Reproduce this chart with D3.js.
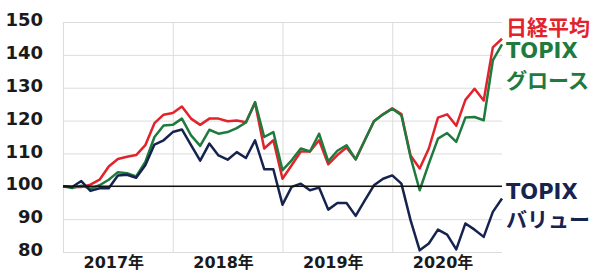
<!DOCTYPE html>
<html>
<head>
<meta charset="utf-8">
<script src="https://cdn.jsdelivr.net/npm/d3@7"></script>
<style>
  html, body { margin: 0; padding: 0; background: #fff; }
  svg { display: block; }
</style>
</head>
<body>
<svg id="chart" width="600" height="274"></svg>
<script>
const months = [
  "2016/12",
  "2017/01","2017/02","2017/03","2017/04","2017/05","2017/06","2017/07","2017/08","2017/09","2017/10","2017/11","2017/12",
  "2018/01","2018/02","2018/03","2018/04","2018/05","2018/06","2018/07","2018/08","2018/09","2018/10","2018/11","2018/12",
  "2019/01","2019/02","2019/03","2019/04","2019/05","2019/06","2019/07","2019/08","2019/09","2019/10","2019/11","2019/12",
  "2020/01","2020/02","2020/03","2020/04","2020/05","2020/06","2020/07","2020/08","2020/09","2020/10","2020/11","2020/12"
];
const nikkei = [100, 99.8, 99.8, 100.5, 102, 106, 108.3, 109, 109.5, 112.5, 119.2, 121.8, 122.3,
  124.3, 120.6, 118.7, 120.6, 120.6, 119.8, 120, 119.5, 125.4, 111.5, 114, 102.3,
  106.4, 110.6, 110.6, 114, 106.7, 109.5, 111.8, 108.2, 114, 119.8, 121.9, 123.7,
  122, 109.4, 105.4, 111.5, 120.9, 121.9, 118.4, 126.3, 129.7, 126.1, 142.3, 144.9];
const topixGrowth = [100, 99.5, 100.2, 99.3, 100.3, 102, 104.3, 104, 103, 107.4, 115, 118.5, 118.7,
  120.6, 115.5, 112.3, 117.2, 116, 116.5, 117.7, 119.4, 125.6, 115, 116.5, 104.9,
  107.9, 111.5, 110.6, 116, 107.6, 110.8, 112.5, 108.2, 114, 119.8, 121.9, 123.6,
  121.6, 108.9, 98.8, 106.9, 114.5, 116.2, 113.5, 120.9, 121.1, 120.1, 138.3, 143.2];
const topixValue = [100, 99.8, 101.6, 98.6, 99.4, 99.4, 103.3, 103.5, 102.6, 106.4, 112.7, 114, 116.5,
  117.3, 112.5, 107.8, 113, 109.4, 108.1, 110.4, 108.6, 114, 105.2, 105.2, 94.4,
  99.8, 100.8, 98.8, 99.6, 92.9, 94.9, 94.9, 91, 95.7, 100.3, 102.3, 103.3,
  100.8, 89.7, 80.5, 82.6, 86.8, 85.3, 80.8, 88.7, 86.8, 84.6, 92.2, 96.3];
const yTicks = [80, 90, 100, 110, 120, 130, 140, 150];
const yearLabels = ["2017年", "2018年", "2019年", "2020年"];
const yearStartIndex = [0, 12, 24, 36];
const baseValue = 100;

const svg = d3.select("#chart");
const mLeft = 63, mRight = 502, mTop = 22, mBottom = 252;

const x = d3.scaleLinear().domain([0, months.length - 1]).range([mLeft, mRight]);
const y = d3.scaleLinear().domain([80, 150]).range([mBottom, mTop]);

const numFont = "'DejaVu Sans', 'Noto Sans CJK JP', sans-serif";

// horizontal gridlines + y labels
const yAxis = svg.append("g")
  .attr("transform", `translate(${mLeft},0)`)
  .call(d3.axisLeft(y).tickValues(yTicks).tickSize(-(mRight - mLeft)).tickPadding(20).tickFormat(d3.format("d")));
yAxis.select(".domain").remove();
yAxis.selectAll(".tick line").attr("stroke", "#dcdcdc").attr("stroke-width", 1);
yAxis.selectAll(".tick text")
  .attr("font-family", numFont).attr("font-size", 18).attr("font-weight", "bold")
  .attr("fill", "#1a1a1a").attr("dy", "0.2em");

// vertical gridlines (year boundaries)
const xAxis = svg.append("g")
  .attr("transform", `translate(0,${mBottom})`)
  .call(d3.axisBottom(x).tickValues(yearStartIndex).tickSize(-(mBottom - mTop)).tickFormat(""));
xAxis.select(".domain").remove();
xAxis.selectAll(".tick line").attr("stroke", "#dcdcdc").attr("stroke-width", 1);

// year labels
const xLab = svg.append("g")
  .attr("transform", `translate(0,${mBottom})`)
  .call(d3.axisBottom(x).tickValues(yearStartIndex.map(d => d + 5.5)).tickSize(0).tickPadding(5)
    .tickFormat((d, i) => yearLabels[i]));
xLab.select(".domain").remove();
xLab.selectAll(".tick text")
  .attr("font-family", numFont).attr("font-size", 16).attr("font-weight", "bold").attr("fill", "#1a1a1a");

const line = d3.line().x((d, i) => x(i)).y(d => y(d));

const series = [
  { data: nikkei, color: "#e3232b" },
  { data: topixGrowth, color: "#1f7a3d" },
  { data: topixValue, color: "#17234f" }
];
series.forEach(s => {
  svg.append("path").datum(s.data)
    .attr("fill", "none").attr("stroke", s.color).attr("stroke-width", 2.5)
    .attr("stroke-linejoin", "round").attr("d", line);
});

// base 100 line
svg.append("line")
  .attr("x1", mLeft).attr("x2", mRight).attr("y1", y(baseValue)).attr("y2", y(baseValue))
  .attr("stroke", "#111").attr("stroke-width", 1.5);

// series labels
const labels = [
  { text: "日経平均", color: "#e3232b", yy: 35 },
  { text: "TOPIX", color: "#1f7a3d", yy: 58 },
  { text: "グロース", color: "#1f7a3d", yy: 88 },
  { text: "TOPIX", color: "#17234f", yy: 199 },
  { text: "バリュー", color: "#17234f", yy: 227 }
];
svg.selectAll("text.lab").data(labels).enter().append("text")
  .attr("class", "lab")
  .attr("x", 506).attr("y", d => d.yy)
  .attr("font-family", numFont).attr("font-size", 21).attr("font-weight", "bold")
  .attr("fill", d => d.color).text(d => d.text);
</script>
</body>
</html>
